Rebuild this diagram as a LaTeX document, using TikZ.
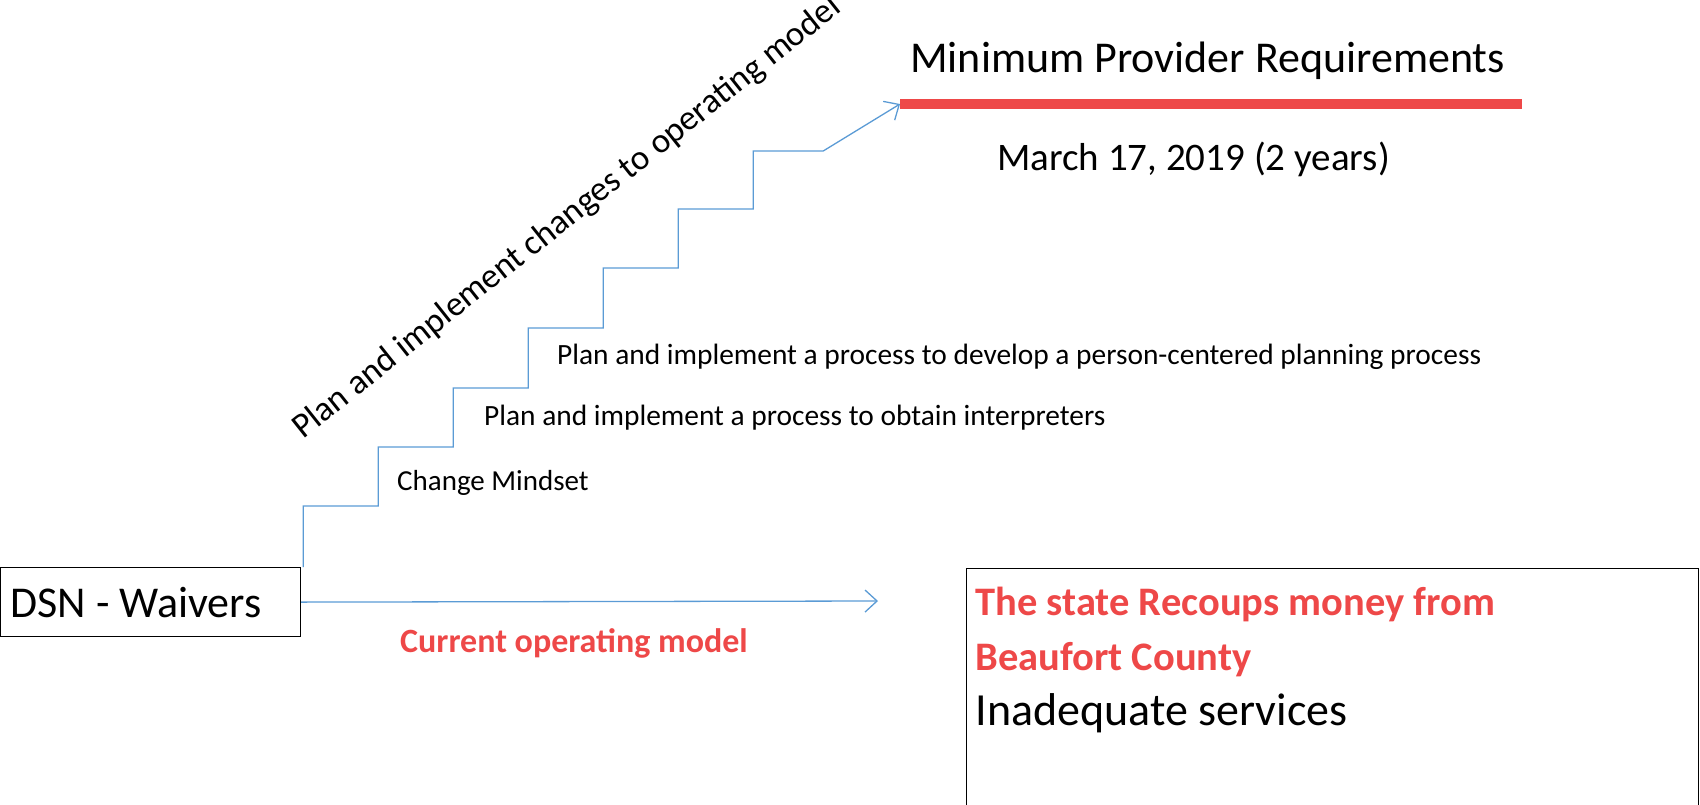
\documentclass[tikz,border=0pt]{standalone}
\usepackage{fontspec}
\setmainfont{Carlito}
\usetikzlibrary{arrows.meta}
\definecolor{stairblue}{RGB}{91,155,213}
\definecolor{warnred}{RGB}{238,72,72}
\newcommand{\redbold}[1]{\textcolor{warnred}{\bfseries #1}}

\begin{document}
\begin{tikzpicture}[x=1pt,y=-1pt,
   flow/.style={draw=stairblue,line width=1.3pt,-{Straight Barb[length=12pt,width=22pt]}},
   txt/.style={anchor=base west,inner sep=0pt},
   box/.style={draw,line width=1.2pt,align=flush left}]
   \useasboundingbox (0,0) rectangle (1700,804);
   \node[box,anchor=north west,text width=280pt,inner sep=10pt,minimum height=69pt,font=\fontsize{44}{50}\selectfont] (dsn) at (0,567) {DSN - Waivers};
   \node[box,anchor=north west,text width=714pt,inner xsep=9pt,inner ysep=17pt,text height=30pt,text depth=230pt,font=\fontsize{40.5}{55}\selectfont] (outcome) at (966,568) {\redbold{The state Recoups money from}\\ \redbold{Beaufort County}\\ \fontsize{46}{55}\selectfont Inadequate services};
   \coordinate (cur) at (878,601);
   \coordinate (goal) at (900,104);
   \coordinate (goalend) at (1522,104);
   \node[txt,font=\fontsize{44}{50}\selectfont] (title) at (910,72) {Minimum Provider Requirements};
   \node[txt,font=\fontsize{39}{50}\selectfont] (date) at (997,170) {March 17, 2019 (2 years)};
   \node[txt,font=\fontsize{29}{35}\selectfont] (mindset) at (397,490) {Change Mindset};
   \node[txt,font=\fontsize{29.4}{35}\selectfont] (interp) at (484,425) {Plan and implement a process to obtain interpreters};
   \node[txt,font=\fontsize{29.4}{35}\selectfont] (person) at (557,364) {Plan and implement a process to develop a person-centered planning process};
   \node[txt,font=\fontsize{35}{40}\selectfont,rotate=38.5] (plan) at (303,440) {Plan and implement changes to operating model};
   \node[txt,font=\fontsize{34}{40}\selectfont\bfseries,text=warnred] (curlabel) at (400,652) {Current operating model};
   \draw[warnred,line width=10pt] (goal) -- (goalend);
   \draw[flow] (dsn.east) -- (cur);
   \draw[flow] ([xshift=2pt]dsn.north east) -- ++(0,-61) -- ++(75,0) -- ++(0,-59) -- ++(75,0) -- ++(0,-59)
      -- ++(75,0) -- ++(0,-60) -- ++(75,0) -- ++(0,-60) -- ++(75,0) -- ++(0,-59) -- ++(75,0) -- ++(0,-58)
      -- ++(70,0) -- (goal);

\end{tikzpicture}
\end{document}
